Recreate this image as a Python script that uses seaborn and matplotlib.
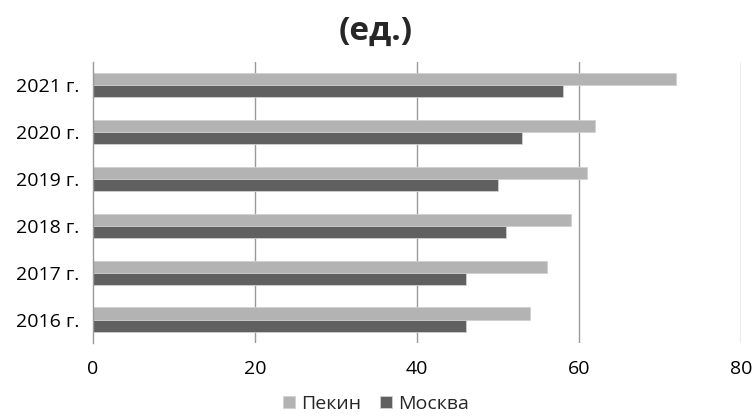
import matplotlib
matplotlib.use("Agg")
import matplotlib.pyplot as plt
import seaborn as sns
import pandas as pd

years = ["2021 г.", "2020 г.", "2019 г.", "2018 г.", "2017 г.", "2016 г."]
beijing = [72, 62, 61, 59, 56, 54]
moscow = [58, 53, 50, 51, 46, 46]
series_names = ["Пекин", "Москва"]
x_ticks = [0, 20, 40, 60, 80]

df = pd.DataFrame({
    "year": years * 2,
    "value": beijing + moscow,
    "city": [series_names[0]] * len(years) + [series_names[1]] * len(years),
})

sns.set_theme(style="white")
plt.rcParams["font.family"] = ["Open Sans", "DejaVu Sans"]

fig = plt.figure(figsize=(7.52, 4.2), dpi=100)
ax = fig.add_axes([0.1237, 0.183, 0.8617, 0.67])

palette = {"Пекин": "#b3b3b3", "Москва": "#606060"}
sns.barplot(data=df, x="value", y="year", hue="city", order=years,
            hue_order=series_names, palette=palette, orient="h",
            width=0.52, ax=ax, saturation=1, edgecolor="#d0d0d0",
            linewidth=0.6, legend=True)

ax.set_xlim(0, 80)
ax.set_xticks(x_ticks)
ax.set_xticklabels([str(t) for t in x_ticks], fontsize=14)
ax.tick_params(axis="x", length=0, pad=12, colors="#000000")
ax.tick_params(axis="y", length=0, pad=10, labelsize=14, colors="#000000")
ax.set_xlabel("")
ax.set_ylabel("")

for t in x_ticks[1:]:
    ax.axvline(t, color="#999999", linewidth=1, zorder=0)
for side in ["top", "right", "bottom"]:
    ax.spines[side].set_visible(False)
ax.spines["left"].set_color("#999999")
ax.spines["left"].set_linewidth(1)

ax.legend_.remove()
handles, labels = ax.get_legend_handles_labels()
fig.legend(handles, labels, loc="lower center", bbox_to_anchor=(0.5, -0.025),
           ncol=2, frameon=False, fontsize=14, handlelength=0.6,
           handleheight=0.6, handletextpad=0.3, columnspacing=1.0)

fig.text(0.5, 0.925, "(ед.)", ha="center", va="center", fontsize=24,
         fontweight="bold")

fig.savefig("out.png", dpi=100)
